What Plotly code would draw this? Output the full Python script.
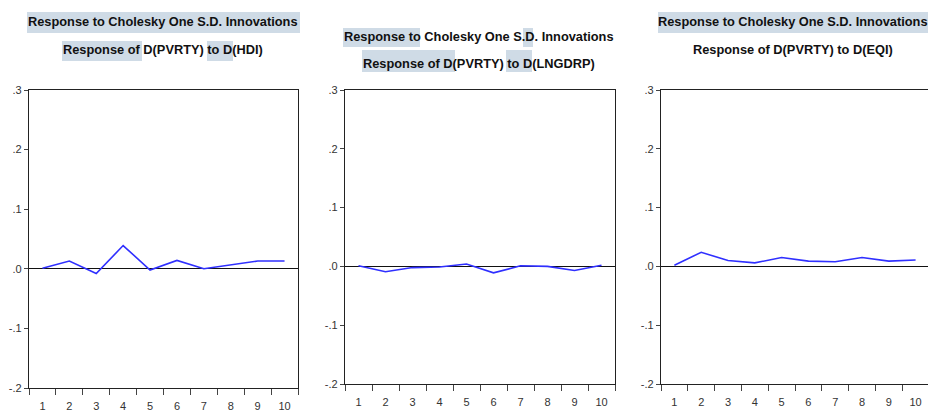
import plotly.graph_objects as go

periods = [1, 2, 3, 4, 5, 6, 7, 8, 9, 10]
resp_hdi = [0.001, 0.013, -0.008, 0.039, -0.002, 0.014, 0.000, 0.007, 0.013, 0.013]
resp_lngdrp = [0.001, -0.009, -0.002, -0.001, 0.004, -0.011, 0.001, 0.000, -0.007, 0.002]
resp_eqi = [0.002, 0.024, 0.010, 0.006, 0.015, 0.009, 0.008, 0.015, 0.009, 0.011]
series = [resp_hdi, resp_lngdrp, resp_eqi]
title_top = "Response to Cholesky One S.D. Innovations"
title_sub = ["Response of D(PVRTY) to D(HDI)",
             "Response of D(PVRTY) to D(LNGDRP)",
             "Response of D(PVRTY) to D(EQI)"]
ytickvals = [-0.2, -0.1, 0.0, 0.1, 0.2, 0.3]
yticktext = ["-.2", "-.1", ".0", ".1", ".2", ".3"]

OFF = 8  # page body margin
W, H = 936 - OFF, 414 - OFF
# panel pixel boxes in window coords: left, right, top, bottom
boxes = [(29, 298, 90, 388), (345, 615, 90, 384), (661, 929, 90, 384)]
title_x = [162.5, 478.5, 793]
title_y = [(22, 50), (37, 63), (22, 49)]
# text-selection highlight boxes seen in the source screenshot (x0, x1, y0, y1)
highlights = [(27, 300, 12, 33), (62, 142, 41, 61), (207, 233, 41, 61),
              (343, 420, 28, 47), (523, 533, 28, 47), (362, 455, 50, 72), (506, 532, 50, 72),
              (658, 936, 12, 33)]

FONT = "Liberation Sans Narrow, Arial Narrow, Liberation Sans, sans-serif"
TSIZE = 12.8

def px(x):
    return (x - OFF) / W

def py(y):
    return 1 - (y - OFF) / H

fig = go.Figure()
annotations = []
shapes = []
for (x0, x1, y0, y1) in highlights:
    shapes.append(dict(type="rect", xref="paper", yref="paper", x0=px(x0), x1=px(x1),
                       y0=py(y1), y1=py(y0), fillcolor="#cfdbe6", line=dict(width=0),
                       layer="below"))

for i, (vals, box) in enumerate(zip(series, boxes)):
    l, r, t, b = box
    xa = "x" if i == 0 else f"x{i+1}"
    ya = "y" if i == 0 else f"y{i+1}"
    fig.add_trace(go.Scatter(x=periods, y=vals, mode="lines",
                             line=dict(color="#2f2fff", width=1.6),
                             xaxis=xa, yaxis=ya, showlegend=False, hoverinfo="skip"))
    xkey = "xaxis" if i == 0 else f"xaxis{i+1}"
    ykey = "yaxis" if i == 0 else f"yaxis{i+1}"
    fig.layout[xkey] = dict(domain=[px(l), px(r)], anchor=ya, range=[0.5, 10.5],
                            tickvals=periods, ticktext=[str(p) for p in periods],
                            ticks="outside", ticklen=8, tickcolor="rgba(0,0,0,0)",
                            showgrid=False, zeroline=False, automargin=False,
                            showline=True, linecolor="#222", linewidth=1.2, mirror=True,
                            tickfont=dict(family=FONT, size=11, color="#333"),
                            minor=dict(tickmode="linear", tick0=0.5, dtick=1, ticks="outside",
                                       ticklen=6, tickcolor="#444", showgrid=False),
                            fixedrange=True)
    fig.layout[ykey] = dict(domain=[py(b), py(t)], anchor=xa, range=[-0.2, 0.3],
                            tickvals=ytickvals, ticktext=yticktext, ticks="outside",
                            ticklen=4, tickcolor="#444", showgrid=False, automargin=False,
                            zeroline=True, zerolinecolor="#111", zerolinewidth=1.2,
                            showline=True, linecolor="#222", linewidth=1.2, mirror=True,
                            tickfont=dict(family=FONT, size=11, color="#333"),
                            fixedrange=True)
    cx = px(title_x[i])
    annotations.append(dict(text=title_top, x=cx, y=py(title_y[i][0]),
                            xref="paper", yref="paper", showarrow=False,
                            xanchor="center", yanchor="middle",
                            font=dict(family=FONT, size=TSIZE, color="#111", weight="bold")))
    annotations.append(dict(text=title_sub[i], x=cx, y=py(title_y[i][1]),
                            xref="paper", yref="paper", showarrow=False,
                            xanchor="center", yanchor="middle",
                            font=dict(family=FONT, size=TSIZE, color="#111", weight="bold")))

fig.update_layout(width=W, height=H,
                  margin=dict(l=0, r=0, t=0, b=0, pad=0, autoexpand=False),
                  paper_bgcolor="white", plot_bgcolor="white",
                  annotations=annotations, shapes=shapes)
fig.write_html("out.html")
